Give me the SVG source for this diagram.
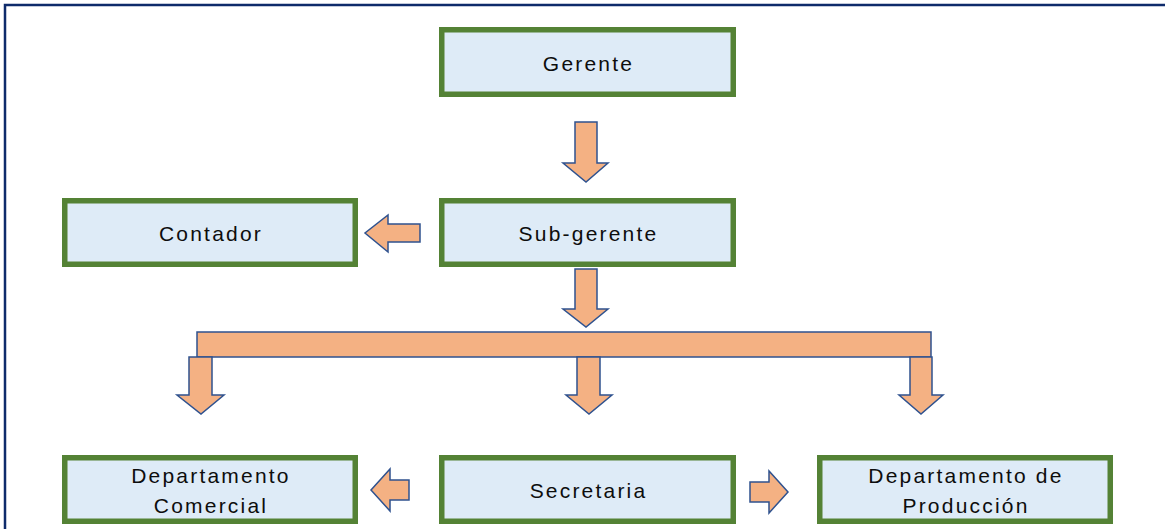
<svg xmlns="http://www.w3.org/2000/svg" width="1165" height="529" viewBox="0 0 1165 529">
<style>
.box{fill:#DEEBF7;stroke:#548235;stroke-width:5.5}
.lbl{font-family:"Liberation Sans",Arial,sans-serif;font-size:21px;fill:#0D0D0D;text-anchor:middle;letter-spacing:2.2px}
.arr{fill:#F4B183;stroke:#2F528F;stroke-width:1.5;stroke-linejoin:miter}
</style>
<rect width="1165" height="529" fill="#FFFFFF"/>
<path d="M5,529 V5 H1165" fill="none" stroke="#0E2B6B" stroke-width="2.5"/>
<g id="connectors">
<polygon class="arr" points="575,122 597,122 597,163 608,163 586,182 563,163 575,163"/>
<polygon class="arr" points="420,224 420,242 388,242 388,252 365,233 388,215 388,224"/>
<polygon class="arr" points="575,269 597,269 597,309 608,309 586,327 563,309 575,309"/>
<rect class="arr" x="197" y="332" width="734" height="25"/>
<polygon class="arr" points="189,357 212,357 212,395 224,395 201,414 177,395 189,395"/>
<polygon class="arr" points="577,357 600,357 600,395 612,395 589,414 566,395 577,395"/>
<polygon class="arr" points="910,357 932,357 932,395 943,395 921,414 899,395 910,395"/>
<polygon class="arr" points="409,480 409,500 390,500 390,511 371,490 390,469 390,480"/>
<polygon class="arr" points="750,482 769,482 769,471 788,492 769,513 769,502 750,502"/>
</g>
<g id="gerente">
<rect class="box" x="441.75" y="29.75" width="291.5" height="64.5"/>
<text class="lbl" x="588.5" y="71">Gerente</text>
</g>
<g id="contador">
<rect class="box" x="64.75" y="200.75" width="290.5" height="63.5"/>
<text class="lbl" x="211" y="241">Contador</text>
</g>
<g id="subgerente">
<rect class="box" x="441.75" y="200.75" width="291.5" height="63.5"/>
<text class="lbl" x="588.5" y="241">Sub-gerente</text>
</g>
<g id="dept-comercial">
<rect class="box" x="64.75" y="457.75" width="290.5" height="63.5"/>
<text class="lbl" x="211" y="483">Departamento</text>
<text class="lbl" x="211" y="513">Comercial</text>
</g>
<g id="secretaria">
<rect class="box" x="441.75" y="457.75" width="291.5" height="63.5"/>
<text class="lbl" x="588.5" y="498">Secretaria</text>
</g>
<g id="dept-produccion">
<rect class="box" x="819.75" y="457.75" width="290.5" height="63.5"/>
<text class="lbl" x="966" y="483">Departamento  de</text>
<text class="lbl" x="966" y="513">Producción</text>
</g>
</svg>
